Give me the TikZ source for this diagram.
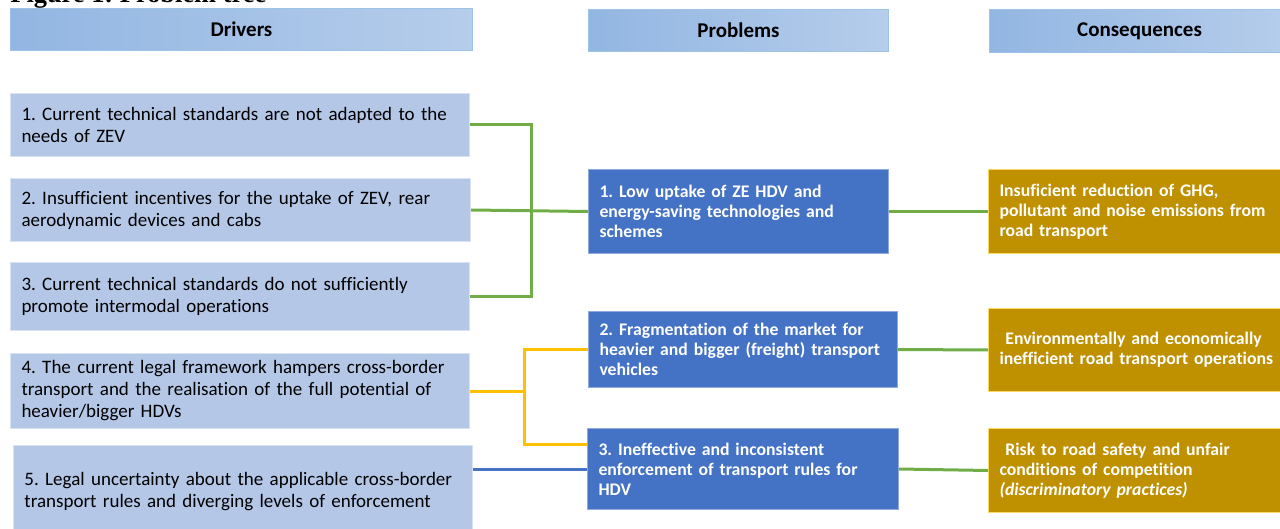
\documentclass[tikz,border=0pt]{standalone}
\usepackage{fontspec}
\setmainfont{Carlito}[Ligatures=NoCommon]
\newfontfamily\figfont{Liberation Serif}
\frenchspacing
\definecolor{hdrleft}{RGB}{146,182,226}
\definecolor{hdrright}{RGB}{182,205,235}
\definecolor{hdrline}{RGB}{157,195,230}
\definecolor{drvfill}{RGB}{180,199,231}
\definecolor{drvline}{RGB}{218,227,243}
\definecolor{probfill}{RGB}{68,114,196}
\definecolor{probline}{RGB}{143,170,220}
\definecolor{consfill}{RGB}{191,144,0}
\definecolor{consline}{RGB}{255,217,102}
\definecolor{linkgreen}{RGB}{112,173,71}
\definecolor{linkyellow}{RGB}{255,192,0}
\definecolor{linkblue}{RGB}{68,114,196}
\begin{document}
\begin{tikzpicture}[x=0.5pt,y=-0.5pt]
\tikzstyle{every node}+=[inner sep=0pt]
\tikzstyle{header}=[anchor=north west, left color=hdrleft, right color=hdrright, draw=hdrline, line width=0.5pt, font=\bfseries\fontsize{10.5}{12}\selectfont]
\tikzstyle{driver}=[anchor=north west, fill=drvfill, draw=drvline, line width=0.5pt, align=left, inner xsep=5.5pt, font=\fontsize{9.5}{11}\selectfont]
\tikzstyle{problem}=[anchor=north west, fill=probfill, draw=probline, line width=0.5pt, text=white, align=left, inner xsep=5.5pt, font=\bfseries\fontsize{8.85}{10}\selectfont]
\tikzstyle{consequence}=[anchor=north west, fill=consfill, draw=consline, line width=0.5pt, text=white, align=left, inner xsep=5.5pt, font=\bfseries\fontsize{8.85}{10}\selectfont]
\tikzstyle{greenlink}=[draw=linkgreen, line width=1.5pt]
\tikzstyle{yellowlink}=[draw=linkyellow, line width=1.5pt]
\tikzstyle{bluelink}=[draw=linkblue, line width=1.5pt]
\useasboundingbox (0,0) rectangle (1280,529);
\node [anchor=base west, font=\figfont\bfseries\fontsize{13.2}{15}\selectfont] (title) at (10,2.5) {Figure 1: Problem tree};
\node [header, minimum width=231pt, minimum height=21pt] (hdrivers) at (10,8) {Drivers};
\node [header, minimum width=150pt, minimum height=21pt] (hproblems) at (588,9) {Problems};
\node [header, minimum width=150pt, minimum height=21.5pt] (hconseq) at (989,9) {Consequences};
\node [driver, minimum width=229.5pt, minimum height=31.5pt, text width=218.5pt] (d1) at (10,93) {1. Current technical standards are not adapted to the\\needs of ZEV};
\node [driver, minimum width=230pt, minimum height=31.5pt, text width=219pt] (d2) at (10,178) {2. Insufficient incentives for the uptake of ZEV, rear\\aerodynamic devices and cabs};
\node [driver, minimum width=229.5pt, minimum height=34pt, text width=218.5pt] (d3) at (10,262) {3. Current technical standards do not sufficiently\\promote intermodal operations};
\node [driver, minimum width=229.5pt, minimum height=37.5pt, text width=218.5pt] (d4) at (10,353) {4. The current legal framework hampers cross-border\\transport and the realisation of the full potential of\\heavier/bigger HDVs};
\node [driver, minimum width=229.5pt, minimum height=46pt, text width=218.5pt] (d5) at (13,445) {5. Legal uncertainty about the applicable cross-border\\transport rules and diverging levels of enforcement};
\node [problem, minimum width=150pt, minimum height=42pt, text width=139pt] (p1) at (588,169) {1. Low uptake of ZE HDV and\\energy-saving technologies and\\schemes};
\node [problem, minimum width=154.5pt, minimum height=38pt, text width=143.5pt] (p2) at (588,311) {2. Fragmentation of the market for\\heavier and bigger (freight) transport\\vehicles};
\node [problem, minimum width=155.5pt, minimum height=40.5pt, text width=144.5pt] (p3) at (587,428) {3. Ineffective and inconsistent\\enforcement of transport rules for\\HDV};
\node [consequence, minimum width=150pt, minimum height=42pt, text width=139pt] (c1) at (988,169) {Insuficient reduction of GHG,\\pollutant and noise emissions from\\road transport};
\node [consequence, minimum width=150pt, minimum height=41.5pt, text width=139pt] (c2) at (988,308) {\ Environmentally and economically\\inefficient road transport operations};
\node [consequence, minimum width=150pt, minimum height=42pt, text width=139pt] (c3) at (988,428) {\ Risk to road safety and unfair\\conditions of competition\\\textit{(discriminatory practices)}};
\coordinate (jgreen) at (531,211);
\coordinate (jyellow) at (524,391);
\draw [greenlink] (d1.east) -| (jgreen) |- (d3.east);
\draw [greenlink] (d2.east) -- (p1.west);
\draw [yellowlink] (d4.east) -- (jyellow);
\draw [yellowlink] (p2.west) -| (jyellow) |- (p3.171);
\draw [bluelink] (p3.west -| d5.east) -- (p3.west);
\draw [greenlink] (p1.east) -- (c1.west);
\draw [greenlink] (p2.east) -- (c2.west);
\draw [greenlink] (p3.east) -- (c3.west);
\end{tikzpicture}
\end{document}
